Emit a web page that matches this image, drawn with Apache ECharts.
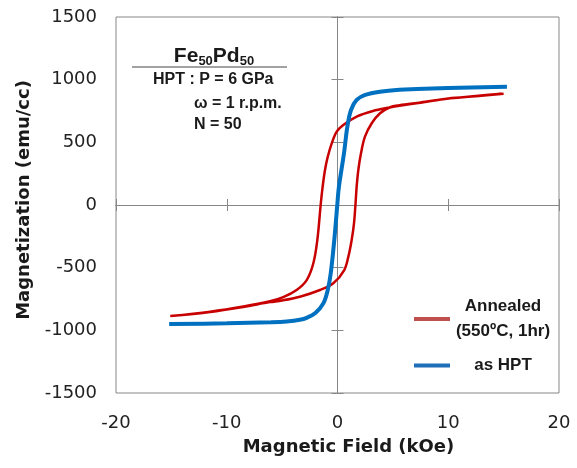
<!DOCTYPE html>
<html>
<head>
<meta charset="utf-8">
<script src="https://cdn.jsdelivr.net/npm/echarts@6/dist/echarts.min.js"></script>
<style>html,body{margin:0;padding:0;background:#fff;}#chart{width:577px;height:468px;}</style>
</head>
<body>
<div id="chart"></div>
<script>
// Annealed (550ºC, 1hr): loop, descending branch then ascending branch [H (kOe), M (emu/cc)]
const annealedH = [15, 12.5, 10, 7.5, 5.6, 4.7, 3.2, 1.73, 0.52, -0.07, -0.52, -0.88, -1.13, -1.34, -1.52, -1.82, -2.18, -2.78, -3.69, -4.9, -6.1, -8.5, -11.5, -15.1,
                   -11.5, -8.5, -6.1, -5.0, -3.4, -1.58, -0.38, 0.61, 0.98, 1.28, 1.49, 1.62, 1.73, 1.88, 2.12, 2.48, 3.09, 3.84, 4.74, 5.6, 7.5, 10.2, 12.5, 14.8];
const annealedM = [888, 868, 850, 816, 792, 778, 750, 705, 638, 585, 492, 385, 279, 146, 0, -279, -465, -599, -678, -735, -768, -810, -851, -886,
                   -853, -813, -775, -762, -732, -678, -625, -519, -412, -279, -146, 0, 146, 279, 412, 545, 652, 732, 780, 796, 818, 851, 870, 888];
// as HPT
const hptH = [-15.2, -10, -6, -4.6, -3.4, -2.78, -2.0, -1.28, -0.88, -0.61, -0.29, -0.02, 0.12, 0.59, 0.89, 1.22, 1.73, 2.5, 3.84, 5.6, 7.15, 10, 15.3];
const hptM = [-950, -944, -935, -929, -916, -900, -862, -785, -678, -545, -279, 0, 140, 415, 625, 758, 838, 878, 904, 920, 925, 933, 944];

const xTicks = {min: -20, max: 20, interval: 10};
const yTicks = {min: -1500, max: 1500, interval: 500};

const seriesNames = ['Annealed', 'as HPT'];
const legendLabels = {'Annealed': '{a|Annealed}\n{a|(550ºC, 1hr)}', 'as HPT': '{a|as HPT}'};

function pairs(xs, ys) { return xs.map((x, i) => [x, ys[i]]); }

const gray = '#878787';
const labelFont = {fontFamily: 'DejaVu Sans', fontSize: 18, color: '#222'};
const titleFont = {fontFamily: 'DejaVu Sans', fontSize: 18, fontWeight: 'bold', color: '#1a1a1a'};

function zeroX(inside) {
  return Object.assign({type: 'value', position: 'bottom', gridIndex: 0,
    axisLine: {show: true, onZero: true, onZeroAxisIndex: 0, lineStyle: {color: gray, width: 1}},
    axisTick: {show: true, inside: inside, length: 6, lineStyle: {color: gray, width: 1}},
    axisLabel: {show: false}, splitLine: {show: false}}, xTicks);
}
function zeroY(inside) {
  return Object.assign({type: 'value', position: 'left', gridIndex: 0,
    axisLine: {show: true, onZero: true, onZeroAxisIndex: 0, lineStyle: {color: gray, width: 1}},
    axisTick: {show: true, inside: inside, length: 6, lineStyle: {color: gray, width: 1}},
    axisLabel: {show: false}, splitLine: {show: false}}, yTicks);
}

const chart = echarts.init(document.getElementById('chart'), null, {renderer: 'canvas'});
chart.setOption({
  animation: false,
  backgroundColor: '#fff',
  grid: {left: 116, right: 18, top: 17, bottom: 75, show: true, borderColor: gray, borderWidth: 1},
  xAxis: [
    Object.assign({type: 'value', position: 'bottom',
      name: 'Magnetic Field (kOe)', nameLocation: 'middle', nameGap: 45,
      nameTextStyle: Object.assign({padding: [0, 0, 0, 22]}, titleFont),
      axisLine: {show: false, onZero: false}, axisTick: {show: false},
      axisLabel: Object.assign({margin: 21, formatter: v => String(v)}, labelFont), splitLine: {show: false}}, xTicks),
    zeroX(true), zeroX(false)
  ],
  yAxis: [
    Object.assign({type: 'value', position: 'left',
      name: 'Magnetization (emu/cc)', nameLocation: 'middle', nameGap: 67,
      nameTextStyle: Object.assign({padding: [0, 0, 0, 10]}, titleFont),
      axisLine: {show: false, onZero: false}, axisTick: {show: false},
      axisLabel: Object.assign({margin: 19, formatter: v => String(v)}, labelFont), splitLine: {show: false}}, yTicks),
    zeroY(true), zeroY(false)
  ],
  legend: {
    orient: 'vertical', left: 409, top: 293, itemWidth: 36, itemHeight: 4, itemGap: 17, icon: 'rect',
    data: [
      {name: seriesNames[0], itemStyle: {color: '#C0504D'}},
      {name: seriesNames[1], itemStyle: {color: '#1F6FB8'}}
    ],
    formatter: name => legendLabels[name],
    textStyle: {rich: {a: {fontFamily: 'Liberation Sans', fontWeight: 'bold', fontSize: 17, color: '#1a1a1a',
      width: 96, align: 'center', lineHeight: 25}}}
  },
  series: [
    {name: seriesNames[0], type: 'line', xAxisIndex: 0, yAxisIndex: 0, data: pairs(annealedH, annealedM),
      smooth: 0.35, showSymbol: false, symbol: 'none', lineStyle: {color: '#C80000', width: 2.5}, itemStyle: {color: '#C80000'}, z: 3},
    {name: seriesNames[1], type: 'line', xAxisIndex: 0, yAxisIndex: 0, data: pairs(hptH, hptM),
      smooth: 0.35, showSymbol: false, symbol: 'none', lineStyle: {color: '#0070C0', width: 4}, itemStyle: {color: '#0070C0'}, z: 4}
  ],
  graphic: [
    {type: 'text', x: 214, y: 56, style: {text: '{b|Fe}{s|50}{b|Pd}{s|50}', align: 'center', verticalAlign: 'middle',
      rich: {b: {fontFamily: 'Liberation Sans', fontWeight: 'bold', fontSize: 21, lineHeight: 24, fill: '#1a1a1a'},
             s: {fontFamily: 'Liberation Sans', fontWeight: 'bold', fontSize: 13, lineHeight: 14, verticalAlign: 'bottom', fill: '#1a1a1a'}}}},
    {type: 'line', shape: {x1: 132, y1: 67, x2: 287, y2: 67}, style: {stroke: '#444', lineWidth: 1}},
    {type: 'text', x: 153, y: 80, style: {text: 'HPT : P = 6 GPa', verticalAlign: 'middle', font: 'bold 16px "Liberation Sans"', fill: '#1a1a1a'}},
    {type: 'text', x: 194, y: 104, style: {text: 'ω = 1 r.p.m.', verticalAlign: 'middle', font: 'bold 16px "Liberation Sans"', fill: '#1a1a1a'}},
    {type: 'text', x: 194, y: 125, style: {text: 'N = 50', verticalAlign: 'middle', font: 'bold 16px "Liberation Sans"', fill: '#1a1a1a'}}
  ]
});
</script>
</body>
</html>
